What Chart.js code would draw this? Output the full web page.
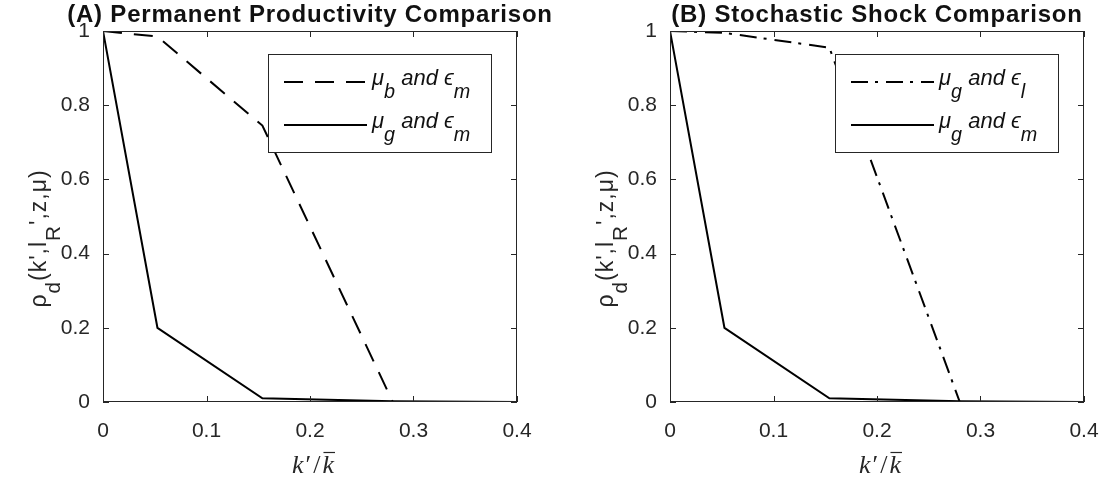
<!DOCTYPE html>
<html>
<head>
<meta charset="utf-8">
<script src="https://cdn.jsdelivr.net/npm/chart.js@4.4.1/dist/chart.umd.min.js"></script>
<style>
  body { margin: 0; background: #fff; overflow: hidden; }
  #wrap { position: relative; width: 1106px; height: 484px; overflow: hidden; }
  canvas { position: absolute; top: 0; }
</style>
</head>
<body>
<div id="wrap">
  <canvas id="chartA" width="567" height="484" style="left:0"></canvas>
  <canvas id="chartB" width="553" height="484" style="left:567px"></canvas>
</div>
<script>
// grid of k'/kbar and the default probabilities
const capital = [0, 0.0526, 0.154, 0.28, 0.4];
const badMedium = [1, 0.985, 0.745, 0, 0]; // mu_b, eps_m
const goodMedium = [1, 0.2, 0.01, 0.002, 0]; // mu_g, eps_m
const goodLow = [1, 0.995, 0.955, 0, 0]; // mu_g, eps_l

const xTickVals = [0, 0.1, 0.2, 0.3, 0.4];
const yTickVals = [0, 0.2, 0.4, 0.6, 0.8, 1];

const SANS = '"Liberation Sans", Arial, sans-serif';
const SERIF = '"Liberation Serif", "Times New Roman", serif';
const AXIS_COLOR = "#262626";
const DASHED = [19, 12];
const DASH_DOT = [17, 7, 3, 8];

// rich text: [{t, sub, it}]
function segFont(s, size) {
  return (s.it ? "italic " : "") + (s.sub ? size * 0.9 : size) + "px " + SANS;
}
function richWidth(ctx, segs, size) {
  let w = 0;
  for (const s of segs) {
    ctx.font = segFont(s, size);
    w += ctx.measureText(s.t).width;
  }
  return w;
}
function drawRich(ctx, segs, x, y, size) {
  for (const s of segs) {
    ctx.font = segFont(s, size);
    ctx.fillText(s.t, x, s.sub ? y + size * 0.6 : y);
    x += ctx.measureText(s.t).width;
  }
}

const yLabelSegs = [
  { t: "ρ" }, { t: "d", sub: true }, { t: "(k',l" }, { t: "R", sub: true }, { t: "',z,μ)" },
];

const frame = {
  id: "frame",
  afterDraw(chart, args, opts) {
    const { ctx, chartArea: a, scales } = chart;
    const cx = (a.left + a.right) / 2;
    ctx.save();

    // box and inward ticks on all sides
    ctx.strokeStyle = AXIS_COLOR;
    ctx.lineWidth = 1;
    ctx.setLineDash([]);
    ctx.strokeRect(a.left + 0.5, a.top + 0.5, a.width - 1, a.height - 1);
    ctx.beginPath();
    for (const v of xTickVals) {
      const px = Math.round(scales.x.getPixelForValue(v)) + 0.5;
      ctx.moveTo(px, a.bottom); ctx.lineTo(px, a.bottom - 6);
      ctx.moveTo(px, a.top); ctx.lineTo(px, a.top + 6);
    }
    for (const v of yTickVals) {
      const py = Math.round(scales.y.getPixelForValue(v)) + 0.5;
      ctx.moveTo(a.left, py); ctx.lineTo(a.left + 6, py);
      ctx.moveTo(a.right, py); ctx.lineTo(a.right - 6, py);
    }
    ctx.stroke();

    // title
    ctx.fillStyle = "#111";
    ctx.font = "bold 24px " + SANS;
    ctx.letterSpacing = "0.8px";
    ctx.textAlign = "center";
    ctx.textBaseline = "middle";
    ctx.fillText(opts.title, cx, 15);
    ctx.letterSpacing = "0px";

    // y label, rotated
    ctx.fillStyle = AXIS_COLOR;
    ctx.textAlign = "left";
    ctx.textBaseline = "alphabetic";
    ctx.save();
    ctx.translate(a.left - 57, (a.top + a.bottom) / 2 + 22);
    ctx.rotate(-Math.PI / 2);
    ctx.letterSpacing = "1px";
    drawRich(ctx, yLabelSegs, -richWidth(ctx, yLabelSegs, 23) / 2, 0, 23);
    ctx.restore();

    // x label k'/kbar
    const parts = [["k", true], ["\u2032", false], ["/", false], ["k", true]];
    let w = 0;
    const widths = parts.map(([t, it]) => {
      ctx.font = (it ? "italic " : "") + "26px " + SERIF;
      const m = ctx.measureText(t).width + 2;
      w += m;
      return m;
    });
    let xx = cx + 4 - w / 2;
    parts.forEach(([t, it], i) => {
      ctx.font = (it ? "italic " : "") + "26px " + SERIF;
      ctx.fillText(t, xx, 473);
      if (i === 3) {
        ctx.beginPath();
        ctx.lineWidth = 1.2;
        ctx.moveTo(xx + 1, 452.5); ctx.lineTo(xx + widths[i] - 1, 452.5);
        ctx.stroke();
      }
      xx += widths[i];
    });

    // legend
    const bw = 223, bh = 98;
    const bx = a.right - 26 - bw, by = a.top + 23;
    ctx.fillStyle = "#fff";
    ctx.fillRect(bx, by, bw, bh);
    ctx.strokeStyle = AXIS_COLOR;
    ctx.lineWidth = 1;
    ctx.strokeRect(bx + 0.5, by + 0.5, bw, bh);
    chart.data.datasets.forEach((ds, i) => {
      const ly = by + 28 + i * 43;
      ctx.strokeStyle = ds.borderColor;
      ctx.lineWidth = ds.borderWidth;
      ctx.setLineDash(ds.borderDash || []);
      ctx.beginPath();
      ctx.moveTo(bx + 16, ly); ctx.lineTo(bx + 99, ly);
      ctx.stroke();
      ctx.setLineDash([]);
      ctx.fillStyle = "#111";
      drawRich(ctx, opts.legend[i], bx + 104, ly + 3, 22);
    });
    ctx.restore();
  },
};

const tickFont = { family: SANS, size: 21 };
const fmt = (v) => String(+v.toFixed(1));

function legendText(mu, eps) {
  return [
    { t: "μ", it: true }, { t: mu, sub: true, it: true },
    { t: " and ", it: true },
    { t: "ϵ", it: true }, { t: eps, sub: true, it: true },
  ];
}

function makeChart(id, title, series, rightPad) {
  return new Chart(document.getElementById(id), {
    type: "line",
    data: {
      datasets: series.map((s) => ({
        label: s.label,
        data: capital.map((k, i) => ({ x: k, y: s.values[i] })),
        borderColor: "#000",
        borderWidth: 2,
        borderDash: s.dash,
        pointRadius: 0,
        tension: 0,
        fill: false,
      })),
    },
    options: {
      responsive: false,
      animation: false,
      devicePixelRatio: 1,
      layout: { padding: { top: 31, right: rightPad, left: 0, bottom: 0 } },
      plugins: {
        legend: { display: false },
        tooltip: { enabled: false },
        frame: { title, legend: series.map((s) => s.legend) },
      },
      scales: {
        x: {
          type: "linear",
          min: 0,
          max: 0.4,
          afterBuildTicks: (s) => { s.ticks = xTickVals.map((v) => ({ value: v })); },
          afterFit: (s) => { s.height = 82; },
          grid: { display: false, drawTicks: false },
          border: { display: false },
          ticks: { padding: 17, font: tickFont, color: AXIS_COLOR, callback: fmt, maxRotation: 0, autoSkip: false },
        },
        y: {
          min: 0,
          max: 1,
          afterBuildTicks: (s) => { s.ticks = yTickVals.map((v) => ({ value: v })); },
          afterFit: (s) => { s.width = 103; },
          grid: { display: false, drawTicks: false },
          border: { display: false },
          ticks: { padding: 13, font: tickFont, color: AXIS_COLOR, callback: fmt, autoSkip: false },
        },
      },
    },
    plugins: [frame],
  });
}

makeChart("chartA", "(A) Permanent Productivity Comparison", [
  { label: "mu_b and eps_m", values: badMedium, dash: DASHED, legend: legendText("b", "m") },
  { label: "mu_g and eps_m", values: goodMedium, dash: [], legend: legendText("g", "m") },
], 50);

makeChart("chartB", "(B) Stochastic Shock Comparison", [
  { label: "mu_g and eps_l", values: goodLow, dash: DASH_DOT, legend: legendText("g", "l") },
  { label: "mu_g and eps_m", values: goodMedium, dash: [], legend: legendText("g", "m") },
], 36);
</script>
</body>
</html>
